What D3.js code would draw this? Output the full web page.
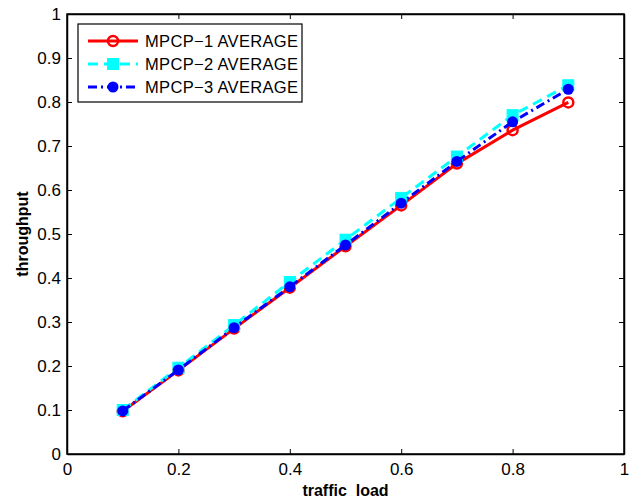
<!DOCTYPE html>
<html>
<head>
<meta charset="utf-8">
<script src="https://cdn.jsdelivr.net/npm/d3@7"></script>
<style>
  body { margin: 0; background: #fff; }
  text { font-family: "Liberation Sans", Arial, sans-serif; }
</style>
</head>
<body>
<svg width="639" height="500"></svg>
<script>
// ---------------- data ----------------
var loads = [0.1, 0.2, 0.3, 0.4, 0.5, 0.6, 0.7, 0.8, 0.9];
var mpcp1 = [0.097, 0.190, 0.285, 0.378, 0.472, 0.565, 0.660, 0.736, 0.799];
var mpcp2 = [0.100, 0.196, 0.293, 0.391, 0.487, 0.582, 0.676, 0.770, 0.838];
var mpcp3 = [0.098, 0.191, 0.287, 0.380, 0.475, 0.570, 0.665, 0.755, 0.829];
var seriesNames = ["MPCP\u22121 AVERAGE", "MPCP\u22122 AVERAGE", "MPCP\u22123 AVERAGE"];
var xTicks = [0, 0.2, 0.4, 0.6, 0.8, 1];
var yTicks = [0, 0.1, 0.2, 0.3, 0.4, 0.5, 0.6, 0.7, 0.8, 0.9, 1];

var series = [
    {name: seriesNames[0], values: mpcp1, color: '#ff0000', dash: null, marker: 'circle-open'},
    {name: seriesNames[1], values: mpcp2, color: '#00ffff', dash: '10,6', marker: 'square'},
    {name: seriesNames[2], values: mpcp3, color: '#0000ff', dash: '9,4,2,4', marker: 'circle'}
];

// ---------------- layout ----------------
// (window.top is read-only, so use other names)
var pLeft = 67, pRight = 624, pTop = 14, pBottom = 454;
var svg = d3.select('svg');

var x = d3.scaleLinear().domain([0, 1]).range([pLeft, pRight]);
var y = d3.scaleLinear().domain([0, 1]).range([pBottom, pTop]);

// axes (MATLAB style box, ticks inward)
var tickLen = 5;
svg.append('g')
   .attr('transform', 'translate(0,' + pBottom + ')')
   .call(d3.axisBottom(x).tickValues(xTicks).tickSizeInner(-tickLen).tickSizeOuter(0).tickPadding(9)
        .tickFormat(d3.format('')));
svg.append('g')
   .attr('transform', 'translate(0,' + pTop + ')')
   .call(d3.axisTop(x).tickValues(xTicks).tickSizeInner(-tickLen).tickSizeOuter(0).tickFormat(''));
svg.append('g')
   .attr('transform', 'translate(' + pLeft + ',0)')
   .call(d3.axisLeft(y).tickValues(yTicks).tickSizeInner(-tickLen).tickSizeOuter(0).tickPadding(6)
        .tickFormat(d3.format('')));
svg.append('g')
   .attr('transform', 'translate(' + pRight + ',0)')
   .call(d3.axisRight(y).tickValues(yTicks).tickSizeInner(-tickLen).tickSizeOuter(0).tickFormat(''));

svg.selectAll('.domain').attr('stroke', '#000').attr('stroke-width', 1.5);
svg.selectAll('.tick line').attr('stroke', '#000');
svg.selectAll('.tick text').style('font-size', '17px').attr('fill', '#000');

// box
svg.append('rect')
   .attr('x', pLeft).attr('y', pTop)
   .attr('width', pRight - pLeft).attr('height', pBottom - pTop)
   .attr('fill', 'none').attr('stroke', '#000').attr('stroke-width', 1.5);

// axis labels
svg.append('text')
   .attr('x', x(0.5)).attr('y', 496)
   .attr('text-anchor', 'middle')
   .style('font-size', '16px').style('font-weight', 'bold')
   .attr('xml:space', 'preserve')
   .text('traffic  load');
svg.append('text')
   .attr('transform', 'translate(28,' + y(0.5) + ') rotate(-90)')
   .attr('text-anchor', 'middle')
   .style('font-size', '16px').style('font-weight', 'bold')
   .text('throughput');

// ---------------- lines ----------------
var line = d3.line()
    .x((d, i) => x(loads[i]))
    .y(d => y(d));

function drawMarker(g, type, color, cx, cy) {
    if (type == 'circle-open') {
        g.append('circle').attr('cx', cx).attr('cy', cy).attr('r', 5)
         .attr('fill', 'none').attr('stroke', color).attr('stroke-width', 2.5);
    } else if (type == 'square') {
        g.append('rect').attr('x', cx - 5.5).attr('y', cy - 5.5).attr('width', 11).attr('height', 11)
         .attr('fill', color).attr('stroke', color).attr('stroke-width', 1);
    } else {
        g.append('circle').attr('cx', cx).attr('cy', cy).attr('r', 5.5)
         .attr('fill', color);
    }
}

series.forEach(s => {
    var g = svg.append('g');
    g.append('path')
     .datum(s.values)
     .attr('d', line)
     .attr('fill', 'none')
     .attr('stroke', s.color)
     .attr('stroke-width', 3)
     .attr('stroke-dasharray', s.dash);
    s.values.forEach((v, i) => drawMarker(g, s.marker, s.color, x(loads[i]), y(v)));
});

// ---------------- legend ----------------
var legend = svg.append('g');
legend.append('rect')
      .attr('x', 78).attr('y', 24).attr('width', 224).attr('height', 78)
      .attr('fill', '#fff').attr('stroke', '#000').attr('stroke-width', 1.2);
series.forEach((s, i) => {
    var ly = 41 + i * 23;
    legend.append('line')
          .attr('x1', 88).attr('x2', 138).attr('y1', ly).attr('y2', ly)
          .attr('stroke', s.color).attr('stroke-width', 3)
          .attr('stroke-dasharray', s.dash);
    drawMarker(legend, s.marker, s.color, 113, ly);
    legend.append('text')
          .attr('x', 145).attr('y', ly + 6)
          .style('font-size', '16.5px')
          .attr('textLength', 153)
          .text(s.name);
});
</script>
</body>
</html>
